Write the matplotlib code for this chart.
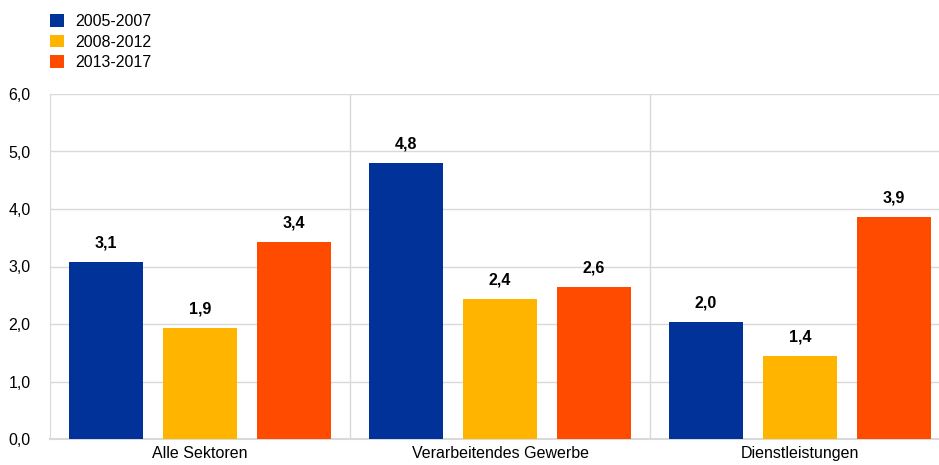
import matplotlib
matplotlib.use("Agg")
import matplotlib.pyplot as plt
from matplotlib.patches import Patch
import numpy as np

plt.rcParams['font.family'] = ['Liberation Sans', 'DejaVu Sans']

categories = ["Alle Sektoren", "Verarbeitendes Gewerbe", "Dienstleistungen"]
series_names = ["2005-2007", "2008-2012", "2013-2017"]
values_2005_2007 = [3.08, 4.80, 2.03]
values_2008_2012 = [1.93, 2.43, 1.44]
values_2013_2017 = [3.42, 2.64, 3.86]
colors = ["#003299", "#FFB400", "#FF4B00"]
y_ticks = [0, 1, 2, 3, 4, 5, 6]

series = [values_2005_2007, values_2008_2012, values_2013_2017]

W, H = 939, 465
fs = 11.5
fig = plt.figure(figsize=(W / 100, H / 100), dpi=100)
ax = fig.add_axes([50 / W, (H - 439) / H, 900 / W, 345 / H])

x = np.arange(len(categories))
offset = 94 / 300
width = 74 / 300
grid_color = "#d9d9d9"

for i, (vals, c) in enumerate(zip(series, colors)):
    pos = x + (i - 1) * offset
    ax.bar(pos, vals, width=width, color=c, zorder=3, label=series_names[i])
    for p, v in zip(pos, vals):
        ax.text(p, v + 0.2, f"{v:.1f}".replace(".", ","), ha="center", va="bottom",
                fontsize=fs, fontweight="bold", color="black")

ax.set_xlim(-0.5, 2.5)
ax.set_ylim(0, 6)
ax.set_yticks(y_ticks)
ax.set_yticklabels([f"{t:.1f}".replace(".", ",") for t in y_ticks], fontsize=fs)
ax.set_xticks(x)
ax.set_xticklabels(categories, fontsize=fs)
ax.tick_params(axis="x", length=0, pad=5)
ax.tick_params(axis="y", length=0, pad=14)

ax.grid(axis="y", color=grid_color, linewidth=1, zorder=0)
for b in [0.5, 1.5]:
    ax.axvline(b, color=grid_color, linewidth=1, zorder=0)
for s in ["top", "right"]:
    ax.spines[s].set_visible(False)
ax.spines["left"].set_color(grid_color)
ax.spines["bottom"].set_color(grid_color)
ax.spines["bottom"].set_linewidth(1.5)

handles = [Patch(facecolor=c, edgecolor="none") for c in colors]
fig.legend(handles, series_names, loc="upper left", bbox_to_anchor=(50 / W, 1 - 14 / H),
           frameon=False, fontsize=fs, handlelength=0.85, handleheight=0.85,
           handletextpad=0.75, labelspacing=0.35, borderaxespad=0, borderpad=0)

fig.savefig("out.png", dpi=100)
